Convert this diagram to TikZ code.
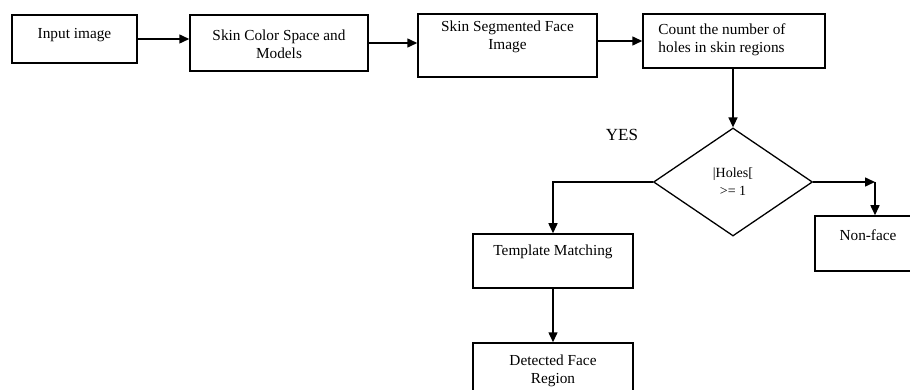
\documentclass[tikz,border=0pt]{standalone}
\usepackage{fontspec}
\setmainfont{Liberation Serif}
\usetikzlibrary{arrows.meta,shapes.geometric}
\begin{document}
\begin{tikzpicture}[x=1pt,y=-1pt,
  boxnode/.style={draw,line width=1.5pt,inner sep=0pt},
  boxtxt/.style={font=\fontsize{15.3}{18}\selectfont,align=center,inner sep=0pt},
  arr/.style={line width=1.5pt,-{Triangle[length=10pt,width=9pt]}},
  decision/.style={diamond,draw,line width=1.3pt,inner sep=0pt,minimum width=159pt,minimum height=108pt,aspect=1.47}
]
\useasboundingbox (0,0) rectangle (910,390);
\clip (0,0) rectangle (910,390);
\node[boxnode,minimum width=125pt,minimum height=48pt,
  label={[boxtxt,yshift=4pt]center:Input image}] (b1) at (74.5,39) {};
\node[boxnode,minimum width=178pt,minimum height=56pt,
  label={[boxtxt,yshift=-1pt]center:Skin Color Space and\\Models}] (b2) at (279,43) {};
\node[boxnode,minimum width=179pt,minimum height=63pt,
  label={[boxtxt,yshift=9pt]center:Skin Segmented Face\\Image}] (b3) at (507.5,45.5) {};
\node[boxnode,minimum width=182pt,minimum height=54pt,
  label={[boxtxt,align=left,anchor=west,xshift=16pt,yshift=1pt]west:Count the number of\\holes in skin regions}] (b4) at (734,41) {};
\node[decision,font=\fontsize{14}{18}\selectfont,align=center] (dm) at (733,182) {|Holes[\\>= 1};
\node[font=\fontsize{17}{20}\selectfont,inner sep=0pt] (yes) at (622,135) {YES};
\node[boxnode,minimum width=160pt,minimum height=54pt,
  label={[boxtxt,yshift=9pt]center:Template Matching}] (tm) at (553,261) {};
\node[boxnode,minimum width=160pt,minimum height=57pt,
  label={[boxtxt,yshift=1pt]center:Detected Face\\Region}] (df) at (553,371.5) {};
\node[boxnode,minimum width=106pt,minimum height=55pt,
  label={[boxtxt,yshift=8pt]center:Non-face}] (nf) at (868,243.5) {};
\coordinate (rc) at (dm.east -| 875,0);
\draw[arr] (b1.east) -- (b1.east -| b2.west);
\draw[arr] (b2.east) -- (b2.east -| b3.west);
\draw[arr] (b3.east |- b4.west) -- (b4.west);
\draw[arr] (dm.north |- b4.south) -- (dm.north);
\draw[arr] (dm.west) -| (tm.north);
\draw[arr] (dm.east) -- (rc);
\draw[arr] (rc) -- (rc |- nf.north);
\draw[arr] (tm.south) -- (df.north);
\end{tikzpicture}
\end{document}
